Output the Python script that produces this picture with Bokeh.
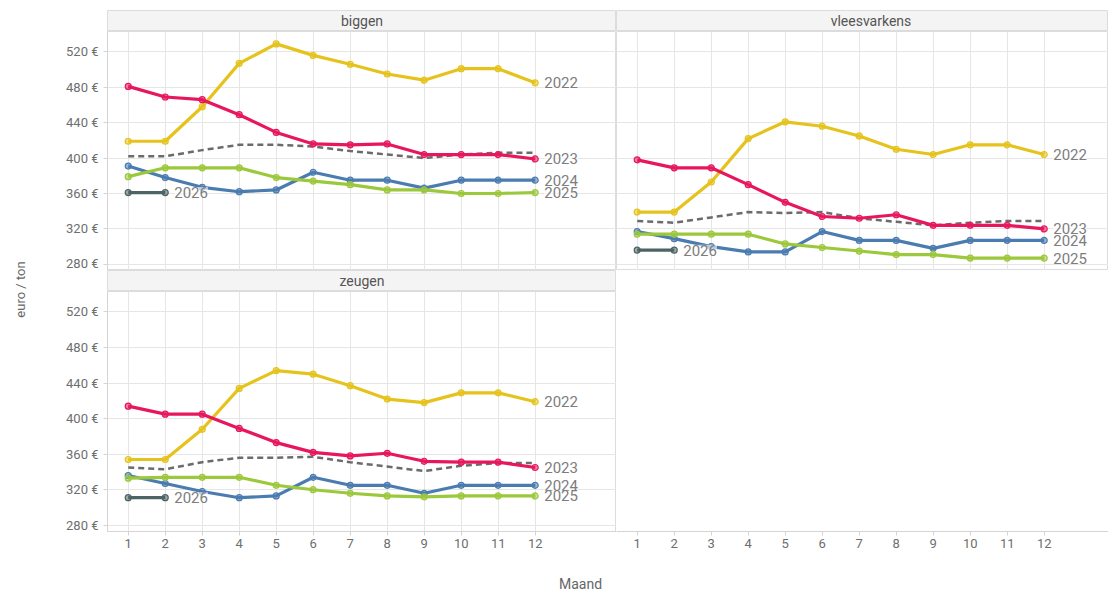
import math
from bokeh.plotting import figure
from bokeh.models import Range1d, FixedTicker, PrintfTickFormatter, ColumnDataSource, LabelSet
from bokeh.layouts import column, row
from bokeh.core.properties import value
from bokeh.embed import file_html
from bokeh.resources import INLINE

# ---------------- data ----------------
months = list(range(1, 13))
y_ticks = [280, 320, 360, 400, 440, 480, 520]
series_years = ["2022", "2023", "2024", "2025", "2026"]

biggen_2022 = [419, 419, 458, 507, 529, 516, 506, 495, 488, 501, 501, 485]
biggen_2023 = [481, 469, 466, 449, 429, 416, 415, 416, 404, 404, 404, 399]
biggen_avg = [402, 402, 409, 415, 415, 413, 408, 404, 400, 404, 406, 406]
biggen_2024 = [391, 378, 367, 362, 364, 384, 375, 375, 366, 375, 375, 375]
biggen_2025 = [379, 389, 389, 389, 378, 374, 370, 364, 364, 360, 360, 361]
biggen_2026 = [361, 361]

vlees_2022 = [339, 339, 373, 422, 441, 436, 425, 410, 404, 415, 415, 404]
vlees_2023 = [398, 389, 389, 370, 350, 334, 332, 336, 324, 324, 324, 320]
vlees_avg = [329, 327, 333, 339, 338, 339, 332, 328, 324, 327, 329, 329]
vlees_2024 = [317, 309, 300, 294, 294, 317, 307, 307, 298, 307, 307, 307]
vlees_2025 = [314, 314, 314, 314, 303, 299, 295, 291, 291, 287, 287, 287]
vlees_2026 = [296, 296]

zeugen_2022 = [354, 354, 388, 434, 454, 450, 437, 422, 418, 429, 429, 419]
zeugen_2023 = [414, 405, 405, 389, 373, 362, 358, 361, 352, 351, 351, 345]
zeugen_avg = [345, 343, 351, 356, 356, 357, 351, 346, 341, 347, 350, 350]
zeugen_2024 = [336, 327, 318, 311, 313, 334, 325, 325, 316, 325, 325, 325]
zeugen_2025 = [333, 334, 334, 334, 325, 320, 316, 313, 312, 313, 313, 313]
zeugen_2026 = [311, 311]

panels = {
    "biggen": [biggen_2022, biggen_2023, biggen_2024, biggen_2025, biggen_2026, biggen_avg],
    "vleesvarkens": [vlees_2022, vlees_2023, vlees_2024, vlees_2025, vlees_2026, vlees_avg],
    "zeugen": [zeugen_2022, zeugen_2023, zeugen_2024, zeugen_2025, zeugen_2026, zeugen_avg],
}

# ---------------- style ----------------
FONT = "Roboto"
COLORS = {"2022": "#e6c31c", "2023": "#e8175d", "2024": "#4a7cb0",
          "2025": "#9cc83b", "2026": "#4c6464"}
AVG_COLOR = "#6b6b6b"
GRID = "#e6e6e6"
OUTLINE = "#dcdcdc"
STRIP_BG = "#f4f4f4"
TICK_COLOR = "#6e6e6e"
LABEL_COLOR = "#7d7d7d"

PX_PER_MONTH = 37.0
X0 = 0.44
YLAB_W = 38
LEFT_BORDER = 69
LEFT_W = 509
RIGHT_W = 492
STRIP_H = 21
TOP_H = 239
BOT_H = 240
XAX_H = 26
TOP_PAD = 10
Y_LO, Y_HI = 273, 543

COMMON = dict(toolbar_location=None, output_backend="svg", title=None,
              background_fill_color="white", border_fill_color="white")


def base_fig(width, height, xr, yr, left=0, right=0, top=0, bottom=0, xloc=None, yloc=None):
    p = figure(width=width, height=height, x_range=xr, y_range=yr,
               x_axis_location=xloc, y_axis_location=yloc,
               min_border_left=left, min_border_right=right,
               min_border_top=top, min_border_bottom=bottom, **COMMON)
    for ax in p.axis:
        ax.major_label_text_font = FONT
        ax.major_label_text_font_size = "13px"
        ax.major_label_text_color = TICK_COLOR
        ax.axis_line_color = "#d4d4d4"
        ax.major_tick_line_color = "#d4d4d4"
        ax.major_tick_out = 4
        ax.major_tick_in = 0
        ax.minor_tick_line_color = None
    return p


def strip(title, frame_w, left, top, center_frac):
    s = base_fig(left + frame_w, top + STRIP_H, Range1d(0, 1), Range1d(0, 1), left=left, top=top)
    s.grid.visible = False
    s.background_fill_color = STRIP_BG
    s.outline_line_color = OUTLINE
    s.text(x=[center_frac], y=[0.5], text=[title], text_align="center", text_baseline="middle",
           text_font=value(FONT), text_font_size="14px", text_color="#555555")
    return s


def add_series(p, data):
    s22, s23, s24, s25, s26, avg = data
    p.line(months, avg, line_color=AVG_COLOR, line_width=2.5, line_dash="6 4")
    ends_x, ends_y, ends_t = [], [], []
    for yr, vals in zip(series_years, [s22, s23, s24, s25, s26]):
        xs = months[:len(vals)]
        c = COLORS[yr]
        p.line(xs, vals, line_color=c, line_width=3.2)
        p.scatter(xs, vals, marker="circle", size=6, fill_color=c, fill_alpha=0.55,
                  line_color=c, line_width=1.2)
        ends_x.append(xs[-1]); ends_y.append(vals[-1]); ends_t.append(yr)
    src = ColumnDataSource(dict(x=ends_x, y=ends_y, t=ends_t))
    p.add_layout(LabelSet(x="x", y="y", text="t", source=src, x_offset=9,
                          text_baseline="middle", text_font=value(FONT), text_font_size="15px",
                          text_color=LABEL_COLOR, background_fill_color="white",
                          background_fill_alpha=0.6))


def panel(name, frame_w, frame_h, left, bottom, show_y, show_x):
    xr = Range1d(X0, X0 + frame_w / PX_PER_MONTH)
    p = base_fig(left + frame_w, frame_h + bottom, xr, Range1d(Y_LO, Y_HI),
                 left=left, bottom=bottom,
                 xloc="below" if show_x else None, yloc="left" if show_y else None)
    p.xaxis.ticker = FixedTicker(ticks=months)
    p.yaxis.ticker = FixedTicker(ticks=y_ticks)
    p.xgrid.ticker = FixedTicker(ticks=months)
    p.ygrid.ticker = FixedTicker(ticks=y_ticks)
    p.yaxis.formatter = PrintfTickFormatter(format="%d €")
    p.xaxis.major_label_standoff = 3
    p.yaxis.major_label_standoff = 5
    p.grid.grid_line_color = GRID
    p.outline_line_color = OUTLINE
    add_series(p, panels[name])
    return p


# left column
sL1 = strip("biggen", LEFT_W, LEFT_BORDER, TOP_PAD, 0.5)
pL1 = panel("biggen", LEFT_W, TOP_H, LEFT_BORDER, 0, True, False)
sL2 = strip("zeugen", LEFT_W, LEFT_BORDER, 0, 0.5)
pL2 = panel("zeugen", LEFT_W, BOT_H, LEFT_BORDER, XAX_H, True, True)

# right column (panel is cut at the window edge; title centred on full panel width)
sR1 = strip("vleesvarkens", RIGHT_W, 0, TOP_PAD, (LEFT_W / 2) / RIGHT_W)
pR1 = panel("vleesvarkens", RIGHT_W, TOP_H, 0, 0, False, False)
pR2 = base_fig(RIGHT_W, STRIP_H + BOT_H + XAX_H, pR1.x_range, Range1d(0, 1),
               bottom=XAX_H, xloc="below")
pR2.xaxis.ticker = FixedTicker(ticks=months)
pR2.xaxis.major_label_standoff = 3
pR2.grid.visible = False
pR2.outline_line_color = None

col_h = TOP_PAD + STRIP_H + TOP_H + STRIP_H + BOT_H + XAX_H

# y axis title
ylab = base_fig(YLAB_W, col_h, Range1d(0, YLAB_W), Range1d(col_h, 0))
ylab.grid.visible = False
ylab.outline_line_color = None
ylab.text(x=[20], y=[289], text=["euro / ton"], angle=math.pi / 2, text_align="center",
          text_baseline="middle", text_font=value(FONT), text_font_size="13px",
          text_color="#666666")

# x axis title
total_w = YLAB_W + LEFT_BORDER + LEFT_W + RIGHT_W
maand_h = 35
xlab = base_fig(total_w, maand_h, Range1d(0, total_w), Range1d(maand_h, 0))
xlab.grid.visible = False
xlab.outline_line_color = None
xlab.text(x=[580], y=[26], text=["Maand"], text_align="center",
          text_baseline="middle", text_font=value(FONT), text_font_size="14px",
          text_color="#666666")

layout = column(
    row(ylab, column(sL1, pL1, sL2, pL2), column(sR1, pR1, pR2)),
    xlab,
)

open("out.html", "w").write(file_html(layout, INLINE))
